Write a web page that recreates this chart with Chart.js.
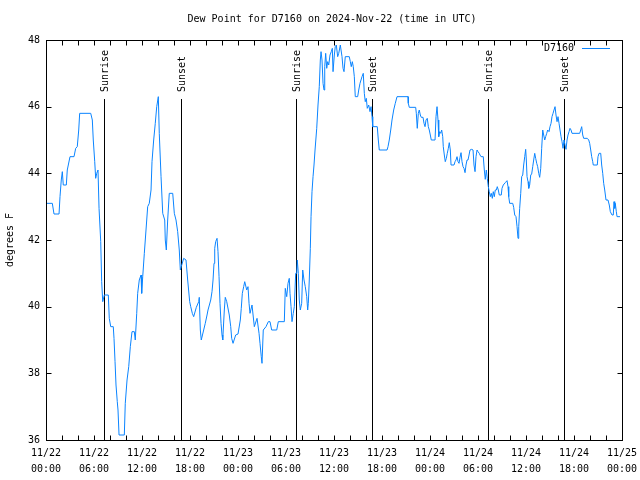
<!DOCTYPE html>
<html>
<head>
<meta charset="utf-8">
<script src="https://cdn.jsdelivr.net/npm/chart.js@4.4.1/dist/chart.umd.min.js"></script>
<style>
  html, body { margin: 0; padding: 0; background: #fff; overflow: hidden; }
  #wrap { width: 640px; height: 480px; }
</style>
</head>
<body>
<div id="wrap"><canvas id="dewChart"></canvas></div>
<script>
// hours since 2024-11-22 00:00 UTC
const hours = [
  0.09, 0.79, 1.0, 1.63, 1.75, 1.91, 2.04, 2.16, 2.54, 2.66, 3.0, 3.5, 3.71, 3.91, 4.09, 4.21,
  5.59, 5.79, 5.91, 6.09, 6.21, 6.34, 6.5, 6.63, 6.84, 6.96, 7.09, 7.29, 7.79, 7.91, 8.09, 8.41,
  8.5, 8.63, 8.75, 8.91, 9.0, 9.13, 9.79, 9.91, 10.13, 10.34, 10.54, 10.75, 11.04, 11.16, 11.34,
  11.46, 11.66, 11.88, 11.96, 12.09, 12.29, 12.5, 12.71, 12.91, 13.13, 13.25, 13.46, 13.66, 13.84,
  14.04, 14.16, 14.38, 14.59, 14.84, 14.91, 15.04, 15.21, 15.41, 15.84, 16.04, 16.25, 16.46, 16.66,
  16.79, 16.91, 17.21, 17.5, 17.71, 17.96, 18.09, 18.29, 18.46, 18.79, 19.09, 19.16, 19.29, 19.41,
  19.71, 19.91, 20.13, 20.25, 20.59, 20.75, 20.88, 21.0, 21.09, 21.21, 21.38, 21.5, 21.63, 21.75,
  21.88, 22.0, 22.09, 22.29, 22.41, 22.59, 22.91, 23.09, 23.21, 23.38, 23.71, 24.0, 24.29, 24.41,
  24.54, 24.71, 24.84, 25.09, 25.25, 25.38, 25.5, 25.75, 26.04, 26.38, 26.63, 26.75, 26.91, 27.0,
  27.16, 27.5, 27.79, 28.0, 28.21, 28.84, 29.04, 29.79, 29.91, 30.09, 30.25, 30.41, 30.5, 30.63,
  30.75, 30.91, 31.04, 31.21, 31.34, 31.41, 31.54, 31.66, 31.79, 31.96, 32.09, 32.25, 32.41, 32.59,
  32.71, 32.79, 32.91, 33.04, 33.13, 33.25, 33.38, 33.5, 33.63, 33.84, 34.0, 34.16, 34.29, 34.38,
  34.5, 34.63, 34.75, 34.84, 34.96, 35.09, 35.21, 35.34, 35.5, 35.66, 35.79, 35.88, 36.04, 36.16,
  36.29, 36.46, 36.59, 36.79, 37.0, 37.13, 37.25, 37.41, 37.91, 38.04, 38.16, 38.29, 38.41, 38.54,
  38.66, 38.96, 39.09, 39.25, 39.5, 39.66, 39.79, 39.91, 40.04, 40.16, 40.34, 40.5, 40.63, 40.75,
  40.84, 41.41, 41.54, 41.66, 42.63, 42.75, 42.91, 43.09, 43.25, 43.46, 43.66, 43.88, 45.25, 45.29,
  45.41, 46.21, 46.29, 46.41, 46.54, 46.66, 46.79, 46.91, 47.13, 47.25, 47.38, 47.5, 47.66, 47.79,
  47.91, 48.04, 48.16, 48.63, 48.75, 48.88, 49.0, 49.09, 49.21, 49.34, 49.46, 49.59, 49.66, 49.79,
  49.91, 50.04, 50.16, 50.29, 50.41, 50.54, 50.63, 51.0, 51.13, 51.25, 51.38, 51.5, 51.63, 51.75,
  51.88, 52.0, 52.13, 52.25, 52.38, 52.5, 52.63, 52.75, 52.88, 53.0, 53.21, 53.38, 53.5, 53.63,
  53.75, 53.88, 54.0, 54.16, 54.25, 54.38, 54.66, 54.79, 54.91, 55.04, 55.16, 55.29, 55.41, 55.54,
  55.66, 55.79, 55.91, 56.04, 56.16, 56.29, 56.41, 56.54, 56.66, 56.91, 57.0, 57.16, 57.41, 57.63,
  57.75, 57.84, 57.96, 58.34, 58.46, 58.59, 58.75, 58.88, 59.0, 59.09, 59.21, 59.34, 59.46, 59.59,
  59.71, 59.84, 59.96, 60.04, 60.13, 60.25, 60.34, 60.46, 60.59, 60.71, 60.84, 60.96, 61.09, 61.21,
  61.34, 61.46, 61.59, 61.71, 61.84, 61.96, 62.09, 62.21, 62.34, 62.46, 62.59, 62.71, 62.88, 63.0,
  63.13, 63.25, 63.38, 63.5, 63.63, 63.75, 63.88, 64.0, 64.13, 64.25, 64.38, 64.5, 64.63, 64.75,
  64.88, 65.0, 65.13, 65.25, 65.38, 65.5, 65.63, 65.75, 66.71, 66.84, 66.96, 67.09, 67.21, 67.66,
  67.84, 67.96, 68.09, 68.21, 68.34, 68.41, 68.91, 69.0, 69.13, 69.34, 69.46, 69.59, 69.71, 69.84,
  70.0, 70.25, 70.41, 70.54, 70.75, 70.91, 71.0, 71.09, 71.16, 71.29, 71.38, 71.75
];

// dew point, degrees F
const dewF = [
  43.1, 43.1, 42.78, 42.78, 43.3, 43.8, 44.05, 43.65, 43.65, 44.1, 44.5, 44.5, 44.75, 44.8, 45.3, 45.8,
  45.8, 45.6, 45.0, 44.35, 43.85, 44.0, 44.1, 42.95, 41.95, 40.75, 40.15, 40.35, 40.35, 39.65, 39.4, 39.4,
  39.05, 38.35, 37.65, 37.15, 36.9, 36.15, 36.15, 37.1, 37.8, 38.2, 38.8, 39.25, 39.25, 39.0, 39.8,
  40.4, 40.8, 40.95, 40.4, 40.9, 41.6, 42.3, 43.0, 43.1, 43.5, 44.35, 45.0, 45.5, 46.0,
  46.3, 45.2, 43.9, 42.8, 42.6, 42.0, 41.7, 42.6, 43.4, 43.4, 42.8, 42.6, 42.25, 41.7,
  41.1, 41.2, 41.45, 41.4, 40.8, 40.15, 40.0, 39.8, 39.7, 39.98, 40.15, 40.28, 39.3, 39.0,
  39.3, 39.5, 39.75, 39.9, 40.2, 40.45, 40.8, 41.3, 41.75, 41.95, 42.05, 41.65, 40.9, 40.1,
  39.5, 39.15, 39.0, 39.9, 40.28, 40.15, 39.75, 39.4, 39.05, 38.9, 39.15, 39.18, 39.6, 39.95,
  40.4, 40.6, 40.75, 40.5, 40.6, 40.1, 39.8, 40.05, 39.4, 39.65, 39.2, 38.9, 38.5, 38.3,
  39.3, 39.4, 39.55, 39.55, 39.3, 39.3, 39.55, 39.55, 40.55, 40.3, 40.7, 40.85, 40.4, 40.0,
  39.55, 39.8, 40.0, 41.0, 41.0, 41.4, 41.0, 40.2, 39.9, 40.1, 41.1, 40.8, 40.6, 40.3,
  39.9, 40.1, 40.8, 41.75, 42.7, 43.45, 43.9, 44.25, 44.7, 45.35, 46.05, 46.6, 47.4, 47.65,
  47.4, 46.7, 46.5, 47.2, 47.6, 47.15, 47.35, 47.25, 47.55, 47.65, 47.75, 47.05, 47.55, 47.8,
  47.85, 47.5, 47.6, 47.85, 47.5, 47.15, 47.05, 47.5, 47.5, 47.35, 47.2, 47.35, 47.2, 46.9,
  46.3, 46.3, 46.5, 46.7, 46.9, 47.0, 46.4, 46.15, 46.25, 45.95, 46.05, 45.85, 46.0, 45.7,
  45.4, 45.4, 45.0, 44.7, 44.7, 44.8, 45.0, 45.3, 45.6, 45.9, 46.1, 46.3, 46.3, 46.1,
  45.98, 45.98, 45.8, 45.35, 45.8, 45.9, 45.75, 45.68, 45.68, 45.5, 45.4, 45.6, 45.65, 45.4,
  45.3, 45.15, 45.0, 45.0, 45.7, 46.0, 45.6, 45.1, 45.25, 45.2, 45.3, 45.1, 44.8, 44.55,
  44.35, 44.45, 44.6, 44.75, 44.92, 44.7, 44.25, 44.25, 44.35, 44.4, 44.5, 44.35, 44.3, 44.48,
  44.62, 44.35, 44.2, 44.15, 44.02, 44.25, 44.4, 44.4, 44.55, 44.7, 44.72, 44.7, 44.25, 44.05,
  44.5, 44.7, 44.65, 44.6, 44.55, 44.5, 44.5, 44.1, 43.82, 44.1, 43.85, 43.6, 43.45, 43.3,
  43.4, 43.25, 43.45, 43.3, 43.5, 43.5, 43.6, 43.5, 43.35, 43.35, 43.55, 43.65, 43.72, 43.78,
  43.6, 43.3, 43.1, 43.1, 42.98, 42.75, 42.7, 42.4, 42.05, 42.4, 42.95, 43.4, 43.9, 43.95,
  44.25, 44.5, 44.72, 44.4, 43.9, 43.75, 43.55, 43.65, 43.95, 43.98, 44.2, 44.4, 44.6, 44.45,
  44.3, 44.2, 44.0, 43.88, 44.15, 44.75, 45.3, 45.15, 45.0, 45.1, 45.2, 45.3, 45.25, 45.4,
  45.5, 45.7, 45.8, 45.9, 46.0, 45.75, 45.55, 45.7, 45.5, 45.3, 45.1, 44.95, 44.75, 45.0,
  44.85, 44.72, 45.0, 45.15, 45.25, 45.35, 45.3, 45.2, 45.2, 45.3, 45.4, 45.15, 45.05, 45.05,
  45.0, 44.9, 44.7, 44.5, 44.35, 44.25, 44.25, 44.5, 44.6, 44.6, 44.25, 44.0, 43.7, 43.5,
  43.2, 43.2, 43.05, 42.85, 42.75, 42.75, 43.15, 42.95, 43.1, 42.85, 42.7, 42.7
];

const sunriseHours = [7.29, 31.29, 55.29];
const sunsetHours = [16.91, 40.79, 64.79];

const xTickDays = ['11/22', '11/22', '11/22', '11/22', '11/23', '11/23', '11/23', '11/23',
                   '11/24', '11/24', '11/24', '11/24', '11/25'];
const xTickTimes = ['00:00', '06:00', '12:00', '18:00', '00:00', '06:00', '12:00', '18:00',
                    '00:00', '06:00', '12:00', '18:00', '00:00'];

const lineColor = '#0a84ff';
const font = 'DejaVu Sans Mono';

Chart.defaults.font.family = font;
Chart.defaults.font.size = 10;
Chart.defaults.color = '#000';

// gnuplot-ish frame: border, inward ticks, title, legend, sun markers
const framePlugin = {
  id: 'frame',
  beforeDatasetsDraw(chart) {
    const { ctx, chartArea, scales } = chart;
    ctx.save();
    ctx.strokeStyle = '#000';
    ctx.lineWidth = 1;
    ctx.fillStyle = '#000';
    ctx.font = '10px ' + font;
    const top = chartArea.top + 59;
    const marks = sunriseHours.map(h => [h, 'Sunrise']).concat(sunsetHours.map(h => [h, 'Sunset']));
    marks.forEach(([h, label]) => {
      const x = Math.round(scales.x.getPixelForValue(h)) + 0.5;
      ctx.beginPath();
      ctx.moveTo(x, top);
      ctx.lineTo(x, chartArea.bottom);
      ctx.stroke();
      ctx.save();
      ctx.translate(x + 1, top - 7);
      ctx.rotate(-Math.PI / 2);
      ctx.textAlign = 'left';
      ctx.textBaseline = 'middle';
      ctx.fillText(label, 0, 0);
      ctx.restore();
    });
    ctx.restore();
  },
  afterDraw(chart) {
    const { ctx, chartArea, scales } = chart;
    const l = Math.round(chartArea.left) + 0.5, r = Math.round(chartArea.right) + 0.5;
    const t = Math.round(chartArea.top) + 0.5, b = Math.round(chartArea.bottom) + 0.5;
    ctx.save();
    ctx.strokeStyle = '#000';
    ctx.lineWidth = 1;
    ctx.strokeRect(l, t, r - l, b - t);
    ctx.beginPath();
    scales.x.ticks.forEach(tk => {
      const x = Math.round(scales.x.getPixelForValue(tk.value)) + 0.5;
      ctx.moveTo(x, b); ctx.lineTo(x, b - 5);
      ctx.moveTo(x, t); ctx.lineTo(x, t + 5);
    });
    scales.y.ticks.forEach(tk => {
      const y = Math.round(scales.y.getPixelForValue(tk.value)) + 0.5;
      ctx.moveTo(l, y); ctx.lineTo(l + 5, y);
      ctx.moveTo(r, y); ctx.lineTo(r - 5, y);
    });
    ctx.stroke();

    ctx.fillStyle = '#000';
    ctx.font = '10px ' + font;
    ctx.textBaseline = 'middle';
    ctx.textAlign = 'center';
    ctx.fillText('Dew Point for D7160 on 2024-Nov-22 (time in UTC)', 332, 19);

    ctx.save();
    ctx.translate(10, 240);
    ctx.rotate(-Math.PI / 2);
    ctx.fillText('degrees F', 0, 0);
    ctx.restore();

    // legend
    ctx.textAlign = 'right';
    ctx.fillText('D7160', 574, 48);
    ctx.strokeStyle = lineColor;
    ctx.beginPath();
    ctx.moveTo(582, 48.5);
    ctx.lineTo(610, 48.5);
    ctx.stroke();
    ctx.restore();
  }
};

const ctx = document.getElementById('dewChart').getContext('2d');
const dewChart = new Chart(ctx, {
  type: 'line',
  data: {
    datasets: [{
      label: 'D7160',
      data: hours.map((h, i) => ({ x: h, y: dewF[i] })),
      borderColor: lineColor,
      borderWidth: 1,
      pointRadius: 0,
      tension: 0,
      fill: false
    }]
  },
  options: {
    responsive: true,
    maintainAspectRatio: false,
    animation: false,
    layout: { padding: { top: 40, right: 18, left: 0, bottom: 0 } },
    plugins: {
      legend: { display: false },
      title: { display: false },
      tooltip: { enabled: false }
    },
    scales: {
      x: {
        type: 'linear',
        min: 0,
        max: 72,
        grid: { display: false, drawTicks: false },
        border: { display: false },
        afterFit: s => { s.height = 40; s.paddingLeft = 0; s.paddingRight = 0; },
        ticks: {
          stepSize: 2,
          autoSkip: false,
          maxRotation: 0,
          minRotation: 0,
          padding: 6,
          font: { size: 10, lineHeight: 1.55 },
          callback: v => (v % 6 === 0 ? [xTickDays[v / 6], xTickTimes[v / 6]] : '')
        }
      },
      y: {
        min: 36,
        max: 48,
        grid: { display: false, drawTicks: false },
        border: { display: false },
        afterFit: s => { s.width = 46; },
        ticks: { stepSize: 2, padding: 6, font: { size: 10 } }
      }
    }
  },
  plugins: [framePlugin]
});
</script>
</body>
</html>
